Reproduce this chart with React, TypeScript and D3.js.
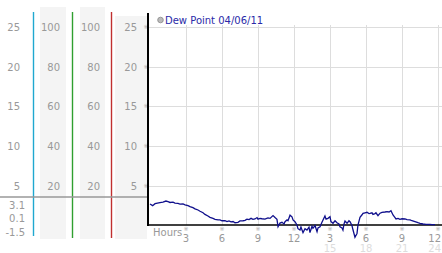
import React from "react";
import * as d3 from "d3";

const hours = [0,0.22,0.42,0.83,1.08,1.33,1.5,1.67,1.92,2.08,2.33,2.5,2.75,2.92,3.17,3.33,3.58,3.75,4.0,4.17,4.42,4.58,4.83,5.0,5.25,5.42,5.67,5.83,6.0,6.25,6.42,6.58,6.75,6.92,7.08,7.33,7.5,7.75,7.92,8.08,8.25,8.42,8.58,8.75,8.92,9.0,9.17,9.33,9.58,9.83,10.0,10.25,10.42,10.58,10.67,10.83,11.0,11.17,11.25,11.42,11.5,11.67,11.83,11.92,12.08,12.25,12.33,12.5,12.58,12.75,12.92,13.08,13.25,13.33,13.5,13.58,13.75,13.92,14.0,14.17,14.33,14.42,14.58,14.67,14.83,15.0,15.08,15.25,15.42,15.58,15.75,15.83,16.0,16.08,16.17,16.25,16.42,16.58,16.67,16.83,16.92,17.08,17.25,17.33,17.5,17.67,17.75,17.92,18.08,18.25,18.33,18.5,18.58,18.75,18.83,19.0,19.17,19.33,19.58,19.75,19.92,20.08,20.25,20.42,20.5,20.67,20.83,21.0,21.25,21.42,21.67,21.83,22.08,22.33,22.5,22.75,23.0,23.33,23.5,23.75];
const dewPoint = [2.7,2.5,2.75,2.87,2.95,3.08,3.0,2.9,2.95,2.83,2.78,2.7,2.72,2.6,2.5,2.37,2.25,2.1,1.95,1.8,1.6,1.4,1.2,1.03,0.9,0.78,0.72,0.7,0.6,0.62,0.5,0.58,0.45,0.5,0.35,0.4,0.57,0.6,0.65,0.8,0.75,0.9,0.78,0.82,1.0,0.8,0.9,0.85,0.8,0.95,0.9,1.25,1.0,0.78,-0.15,0.3,0.4,0.2,0.48,0.7,0.6,1.3,1.1,0.7,0.48,0.06,-0.4,-0.57,-0.2,-0.9,-0.4,-0.57,-0.2,-0.9,-0.1,-0.35,0.0,-0.78,-0.3,-0.15,0.4,0.7,1.2,0.8,0.9,1.1,0.5,0.28,0.6,0.35,0.2,-0.15,-0.3,-0.57,0.2,0.57,0.28,0.6,0.48,0.0,-0.57,-1.48,-1.0,0.06,1.03,1.35,1.53,1.6,1.66,1.5,1.53,1.6,1.4,1.5,1.6,1.23,1.55,1.66,1.7,1.74,1.7,1.86,1.32,1.0,0.82,0.9,0.78,0.85,0.82,0.75,0.7,0.6,0.48,0.35,0.28,0.19,0.15,0.15,0.12,0.1];

const yTicks = [25, 20, 15, 10, 5];
const pctTicks = ["100", "80", "60", "40", "20"];
const xTicks = [3, 6, 9, 12, 15, 18, 21, 24];
const xTickTop = ["3", "6", "9", "12", "3", "6", "9", "12"];
const xTickBottom = ["", "", "", "", "15", "18", "21", "24"];
const statLabels = ["3.1", "0.1", "-1.5"];
const legendLabel = "Dew Point 04/06/11";

const FONT = "DejaVu Sans, Verdana, sans-serif";

export default function App() {
  const W = 442, H = 253;
  const x = d3.scaleLinear().domain([0, 24]).range([150, 438]);
  const y = d3.scaleLinear().domain([0, 25]).range([225.5, 27]);
  const pts = hours.map((h, i) => [h, dewPoint[i]] as [number, number]);
  const line = d3.line<[number, number]>().x(d => x(d[0])).y(d => y(d[1]));
  const axisY = 225;
  const labelColor = "#999";
  const fs = 10;

  return (
    <div style={{ position: "fixed", left: 0, top: 0 }}>
      <svg width={W} height={H} style={{ display: "block", background: "#fff" }}>
        {/* gray bands */}
        <rect x={40} y={7} width={26} height={232} fill="#f4f4f4" />
        <rect x={80} y={7} width={25} height={232} fill="#f4f4f4" />
        <rect x={115} y={16} width={32} height={223} fill="#f4f4f4" />
        {/* colored scale lines */}
        <line x1={33.5} x2={33.5} y1={12} y2={236} stroke="#20a8d0" strokeWidth={1.4} />
        <line x1={72.5} x2={72.5} y1={12} y2={238} stroke="#30a030" strokeWidth={1.4} />
        <line x1={111.5} x2={111.5} y1={12} y2={238} stroke="#c03030" strokeWidth={1.4} />
        {/* separator */}
        <line x1={0} x2={148} y1={197} y2={197} stroke="#999" strokeWidth={1.5} />
        {/* left labels */}
        {yTicks.map((t, i) => (
          <g key={t} fontFamily={FONT} fontSize={fs} fill={labelColor} textAnchor="end">
            <text x={20} y={y(t) + 4}>{t}</text>
            <text x={60} y={y(t) + 4}>{pctTicks[i]}</text>
            <text x={100} y={y(t) + 4}>{pctTicks[i]}</text>
            <text x={137} y={y(t) + 4}>{t}</text>
            <text x={146} y={y(t) + 2} fontSize={6} textAnchor="middle" fill="#aaa">※</text>
          </g>
        ))}
        {statLabels.map((s, i) => (
          <text key={s} x={25} y={209 + i * 13.3} fontFamily={FONT} fontSize={fs} fill={labelColor} textAnchor="end">{s}</text>
        ))}
        {/* grid */}
        {yTicks.map(t => (
          <line key={"h" + t} x1={148} x2={442} y1={Math.round(y(t)) + 0.5} y2={Math.round(y(t)) + 0.5} stroke="#ddd" />
        ))}
        {xTicks.map(t => (
          <line key={"v" + t} x1={Math.round(x(t)) + 0.5} x2={Math.round(x(t)) + 0.5} y1={25} y2={axisY} stroke="#ddd" />
        ))}
        {/* axes */}
        <line x1={148} x2={148} y1={13} y2={axisY + 1} stroke="#000" strokeWidth={2} />
        <line x1={148} x2={442} y1={axisY} y2={axisY} stroke="#000" strokeWidth={1.5} />
        {/* data line */}
        <path d={line(pts) || ""} fill="none" stroke="#10108c" strokeWidth={1.3} />
        {/* legend */}
        <circle cx={160.5} cy={20} r={2.8} fill="#bbb" stroke="#888" strokeWidth={0.8} />
        <text x={165} y={24} fontFamily={FONT} fontSize={10} fill="#2a2aa8">{legendLabel}</text>
        {/* x labels */}
        <text x={153} y={236} fontFamily={FONT} fontSize={fs} fill={labelColor}>Hours</text>
        {xTicks.map((t, i) => {
          const last = i === xTicks.length - 1;
          return (
            <g key={"xl" + t} fontFamily={FONT} textAnchor={last ? "end" : "middle"}>
              <text x={x(t)} y={231} fontSize={6} fill="#aaa" textAnchor="middle">※</text>
              <text x={last ? 441 : x(t)} y={242} fontSize={fs} fill={labelColor}>{xTickTop[i]}</text>
              <text x={last ? 441 : x(t)} y={252} fontSize={fs} fill="#ddd">{xTickBottom[i]}</text>
            </g>
          );
        })}
      </svg>
    </div>
  );
}
